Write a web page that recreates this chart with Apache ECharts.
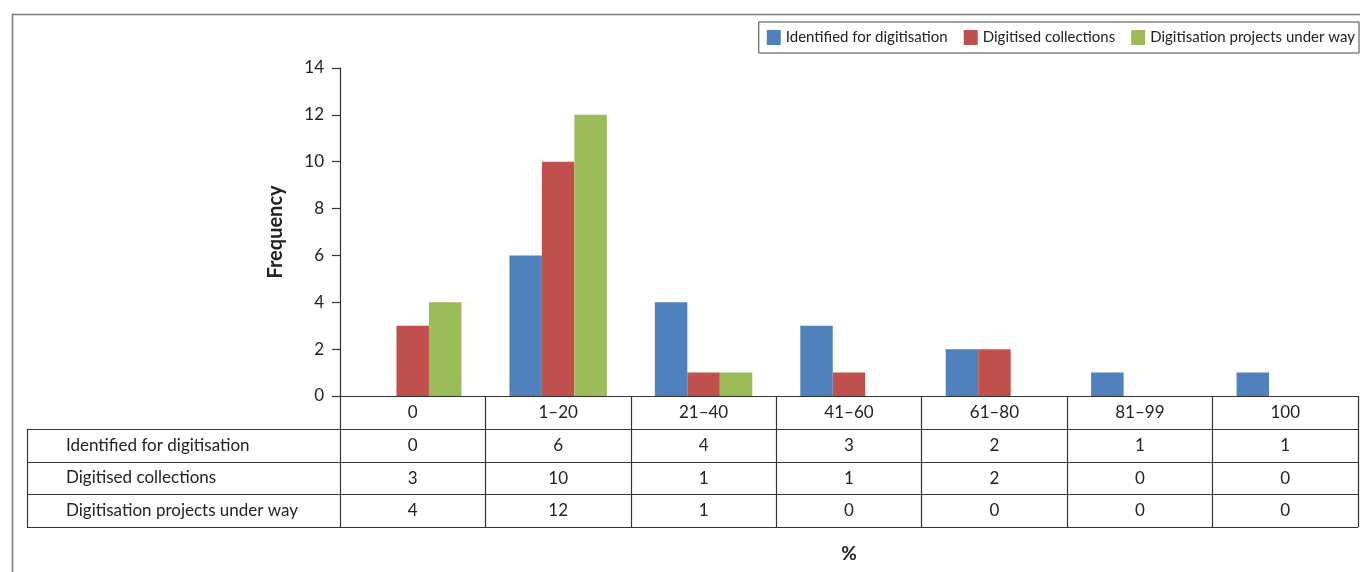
<!DOCTYPE html>
<html>
<head>
<meta charset="utf-8">
<script src="https://cdn.jsdelivr.net/npm/echarts@6/dist/echarts.min.js"></script>
<style>
  html, body { margin: 0; padding: 0; background: #fff; }
  #chart { width: 1360px; height: 572px; }
</style>
</head>
<body>
<div id="chart"></div>
<script>
// Digitisation survey: frequency of respondents by percentage band
const categories = ['0', '1–20', '21–40', '41–60', '61–80', '81–99', '100'];
const seriesNames = ['Identified for digitisation', 'Digitised collections', 'Digitisation projects under way'];
const identified = [0, 6, 4, 3, 2, 1, 1];
const digitised = [3, 10, 1, 1, 2, 0, 0];
const underWay = [4, 12, 1, 0, 0, 0, 0];
const seriesValues = [identified, digitised, underWay];
const colors = ['#4F81BD', '#C0504D', '#9BBB59'];

const FONT = 'Lato, "Open Sans", sans-serif';
const TEXT = '#222';
const LINE = '#333';
const TABLE_FS = 17;

const W = 1360, H = 572;
const grid = { left: 340, right: 2, top: 68, bottom: 176 };
const axisY = H - grid.bottom;      // baseline of the value axis
const rowH = 32.8;                   // height of one data-table row
const tableLeft = 27;
const gridRightX = W - grid.right;

const chart = echarts.init(document.getElementById('chart'), null, { renderer: 'canvas' });

// one extra category axis per table row, offset below the plot, carrying the values as labels
const tableAxes = seriesValues.map((vals, i) => ({
  type: 'category',
  gridIndex: 0,
  position: 'bottom',
  offset: rowH * (i + 1),
  data: vals.map(String),
  axisLine: { show: false },
  axisTick: { show: false },
  axisLabel: { interval: 0, margin: 8, fontFamily: FONT, fontSize: TABLE_FS, color: TEXT }
}));

const graphics = [
  // frame round the whole figure
  { type: 'rect', silent: true, shape: { x: 12.5, y: 14.5, width: 1400, height: 600 },
    style: { fill: null, stroke: '#7a7a7a', lineWidth: 1.6 } },
  // left edge of the row-label column
  { type: 'line', silent: true,
    shape: { x1: tableLeft + 0.5, y1: axisY + rowH, x2: tableLeft + 0.5, y2: axisY + rowH * 4 },
    style: { stroke: LINE, lineWidth: 1.2 } }
];
for (let k = 1; k <= 4; k++) {
  const y = Math.round(axisY + rowH * k) + 0.5;
  graphics.push({ type: 'line', silent: true,
    shape: { x1: tableLeft, y1: y, x2: gridRightX, y2: y },
    style: { stroke: LINE, lineWidth: 1.2 } });
}
seriesNames.forEach((name, i) => {
  graphics.push({ type: 'text', silent: true,
    style: { text: name, x: 66, y: axisY + rowH * (i + 1.5), textVerticalAlign: 'middle',
      textAlign: 'left', font: TABLE_FS + 'px ' + FONT, fill: TEXT } });
});

const option = {
  animation: false,
  backgroundColor: '#fff',
  color: colors,
  textStyle: { fontFamily: FONT },
  grid: grid,
  legend: {
    right: 1, top: 22,
    data: seriesNames,
    icon: 'rect',
    itemWidth: 14, itemHeight: 15, itemGap: 16,
    padding: [8, 4, 8, 8],
    borderColor: '#444', borderWidth: 1,
    textStyle: { fontFamily: FONT, fontSize: 15, color: TEXT }
  },
  xAxis: [{
    type: 'category',
    data: categories,
    boundaryGap: true,
    name: '%',
    nameLocation: 'middle',
    nameGap: 148,
    nameTextStyle: { fontFamily: FONT, fontSize: 19, fontWeight: 'bold', color: TEXT },
    axisLine: { show: true, lineStyle: { color: LINE, width: 1.2 } },
    axisTick: { show: true, interval: 0, length: rowH * 4, lineStyle: { color: LINE, width: 1.2 } },
    axisLabel: { interval: 0, margin: 8, fontFamily: FONT, fontSize: TABLE_FS, color: TEXT }
  }].concat(tableAxes),
  yAxis: {
    type: 'value',
    min: 0, max: 14, interval: 2,
    name: 'Frequency',
    nameLocation: 'middle',
    nameRotate: 90,
    nameGap: 54,
    nameTextStyle: { fontFamily: FONT, fontSize: 20, fontWeight: 'bold', color: TEXT },
    axisLine: { show: true, lineStyle: { color: LINE, width: 1.2 } },
    axisTick: { show: true, length: 8, lineStyle: { color: LINE, width: 1.2 } },
    splitLine: { show: false },
    axisLabel: { margin: 16, fontFamily: FONT, fontSize: TABLE_FS, color: TEXT }
  },
  series: seriesNames.map((name, i) => ({
    name: name,
    type: 'bar',
    xAxisIndex: 0,
    data: seriesValues[i],
    barGap: '0%',
    barCategoryGap: '33%',
    itemStyle: { color: colors[i] }
  })),
  graphic: graphics
};

chart.setOption(option);
</script>
</body>
</html>
